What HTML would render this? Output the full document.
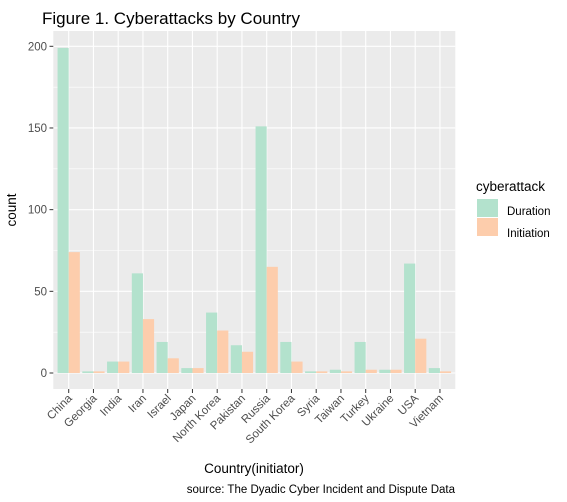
<!DOCTYPE html>
<html><head><meta charset="utf-8"><style>body{margin:0;background:#fff}svg{display:block;font-family:"Liberation Sans",Arial,sans-serif}</style></head>
<body>
<svg id="chart" width="567" height="502">
<text x="42" y="24" font-size="17" fill="#000">Figure 1. Cyberattacks by Country</text>
<rect x="53.3" y="31" width="402" height="358" fill="#ebebeb"/>
<g id="grid"></g><g id="bars"></g><g id="axes"></g>
<text transform="translate(16,210) rotate(-90)" text-anchor="middle" font-size="13.5">count</text>
<text x="254" y="473" text-anchor="middle" font-size="13.5">Country(initiator)</text>
<text x="455" y="493" text-anchor="end" font-size="11.5">source: The Dyadic Cyber Incident and Dispute Data</text>
<g>
<text x="476" y="191" font-size="13.5">cyberattack</text>
<rect x="477" y="199" width="21" height="18" fill="#b3e2cd"/>
<rect x="477" y="218" width="21" height="18" fill="#fdcdac"/>
<text x="507" y="215" font-size="11.5">Duration</text>
<text x="507" y="237" font-size="11.5">Initiation</text>
</g>
</svg>
<script>
const categories=["China","Georgia","India","Iran","Israel","Japan","North Korea","Pakistan","Russia","South Korea","Syria","Taiwan","Turkey","Ukraine","USA","Vietnam"];
const duration=[199,1,7,61,19,3,37,17,151,19,1,2,19,2,67,3];
const initiation=[74,1,7,33,9,3,26,13,65,7,1,1,2,2,21,1];
const yTicks=[0,50,100,150,200];
const NS="http://www.w3.org/2000/svg";
const x0=68.7,step=24.75;
const xs=i=>x0+i*step;
const ys=v=>373-v*1.6335;
function mk(t,a,p){const e=document.createElementNS(NS,t);for(const k in a)e.setAttribute(k,a[k]);p.appendChild(e);return e;}
const grid=document.getElementById('grid'),bars=document.getElementById('bars'),axes=document.getElementById('axes');
yTicks.forEach((v,i)=>{
 if(i<yTicks.length-1){const m=mk('line',{x1:53.3,x2:455.3,y1:ys(v+25),y2:ys(v+25),stroke:'#fff','stroke-width':0.6},grid);
 
 }
 const l=mk('line',{x1:53.3,x2:455.3,y1:ys(v),y2:ys(v),stroke:'#fff','stroke-width':1.1},grid);
 
 
 const tk=mk('line',{x1:49.5,x2:53.3,y1:ys(v),y2:ys(v),stroke:'#333'},axes);
 
 
 const t=mk('text',{x:47,y:ys(v)+4,'text-anchor':'end','font-size':11.5,fill:'#4d4d4d'},axes);
 t.textContent=v;
 
 
});
const bw=step*0.9/2;
categories.forEach((c,i)=>{
 const x=xs(i);
 const g=mk('line',{x1:x,x2:x,y1:31,y2:389,stroke:'#fff','stroke-width':1.1},grid);
 
 
 const b1=mk('rect',{x:x-bw,y:ys(duration[i]),width:bw,height:373-ys(duration[i]),fill:'#b3e2cd'},bars);
 
 
 const b2=mk('rect',{x:x,y:ys(initiation[i]),width:bw,height:373-ys(initiation[i]),fill:'#fdcdac'},bars);
 
 
 const tk=mk('line',{x1:x,x2:x,y1:389,y2:393,stroke:'#333'},axes);
 
 
 const t=mk('text',{transform:`translate(${x+4},${399}) rotate(-45)`,'text-anchor':'end','font-size':11.5,fill:'#4d4d4d'},axes);
 t.textContent=c;
 
 
});
</script>
</body></html>
